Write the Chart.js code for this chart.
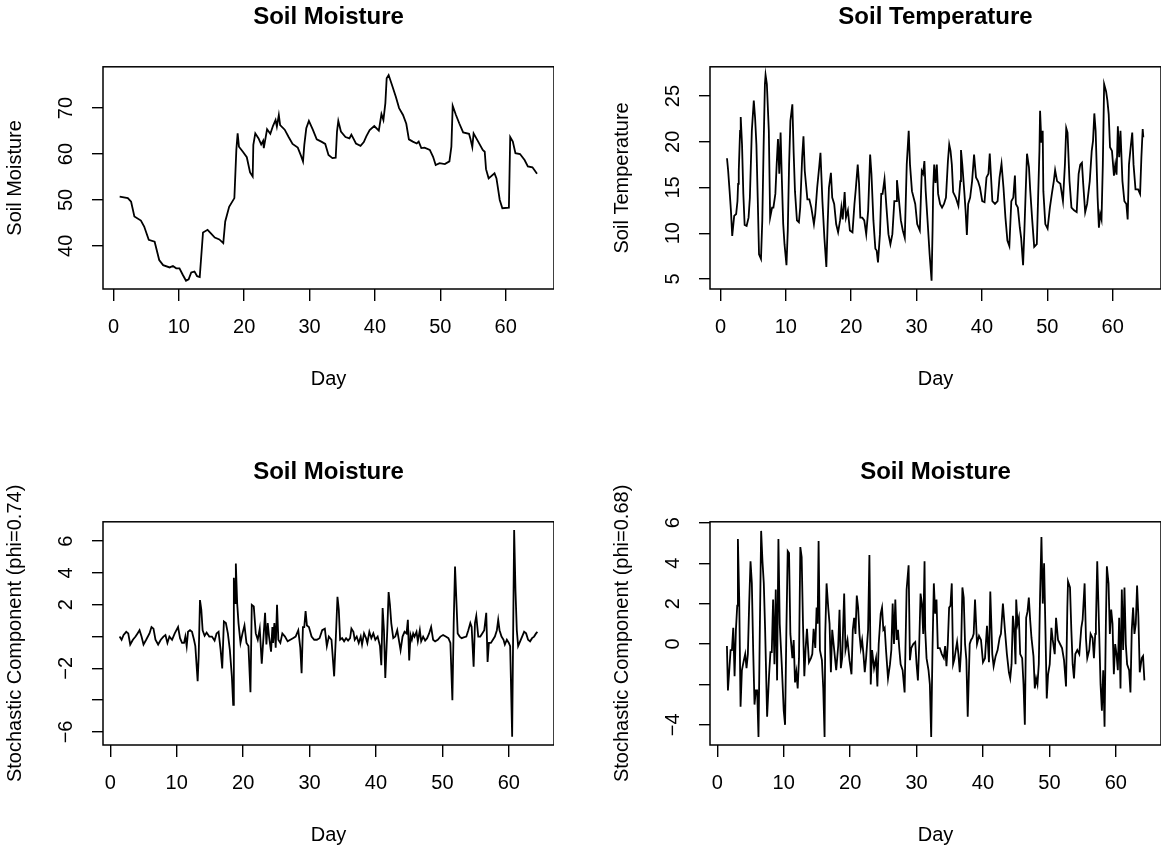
<!DOCTYPE html>
<html>
<head>
<meta charset="utf-8">
<title>Soil Moisture / Soil Temperature</title>
<script src="https://cdn.jsdelivr.net/npm/chart.js@4.4.0/dist/chart.umd.min.js"></script>
<style>
  html, body { margin: 0; padding: 0; background: #fff; overflow: hidden; }
  .panel { position: absolute; }
  #p1 { left: 0; top: 0; width: 554px; height: 393px; }
  #p2 { left: 607px; top: 0; width: 554px; height: 393px; }
  #p3 { left: 0; top: 455px; width: 554px; height: 394px; }
  #p4 { left: 607px; top: 455px; width: 554px; height: 394px; }
</style>
</head>
<body>
<div class="panel" id="p1"><canvas id="moistureChart"></canvas></div>
<div class="panel" id="p2"><canvas id="temperatureChart"></canvas></div>
<div class="panel" id="p3"><canvas id="stochMoistureChart"></canvas></div>
<div class="panel" id="p4"><canvas id="stochTempChart"></canvas></div>
<script>
// x axis ticks (days), shared by all panels
const dayTicks = [0, 10, 20, 30, 40, 50, 60];

// Soil moisture (top left)
const moistureDays = [
  0.95, 2.2, 2.7, 3.2, 4.2, 4.7, 5.4, 6.3, 7.0, 7.6,
  8.6, 9.1, 9.6, 10.1, 10.6, 11.1, 11.5, 11.9, 12.4, 12.8,
  13.2, 13.7, 14.4, 14.8, 15.5, 16.2, 16.8, 17.1, 17.7, 18.5,
  18.8, 19.0, 19.2, 19.8, 20.4, 20.9, 21.3, 21.4, 21.7, 22.2,
  22.6, 22.9, 23.0, 23.5, 24.0, 24.4, 24.8, 25.0, 25.3, 25.5,
  26.2, 26.8, 27.4, 28.2, 28.7, 29.0, 29.2, 29.5, 29.9, 30.5,
  31.1, 31.8, 32.4, 32.9, 33.5, 34.0, 34.2, 34.4, 34.8, 35.5,
  36.1, 36.4, 36.7, 37.1, 37.8, 38.3, 38.7, 39.2, 39.9, 40.6,
  41.0, 41.3, 41.6, 41.8, 42.1, 42.6, 43.2, 43.7, 44.3, 44.8,
  45.2, 45.8, 46.4, 46.7, 47.1, 47.6, 48.4, 48.9, 49.3, 49.9,
  50.7, 51.4, 51.7, 51.9, 52.4, 52.9, 53.5, 54.4, 54.6, 54.9,
  55.1, 55.8, 56.5, 56.8, 57.0, 57.4, 58.3, 58.6, 59.1, 59.5,
  60.5, 60.7, 61.1, 61.5, 62.2, 62.9, 63.4, 64.1, 64.4, 64.8
];
const moistureValues = [
  50.7, 50.4, 49.6, 46.4, 45.5, 44.2, 41.3, 40.9, 36.9, 35.8,
  35.3, 35.6, 35.1, 35.1, 33.7, 32.4, 32.7, 34.2, 34.4, 33.4,
  33.2, 42.9, 43.5, 42.9, 41.8, 41.4, 40.6, 45.3, 48.5, 50.4,
  60.9, 64.5, 61.6, 60.5, 59.3, 56.0, 55.1, 62.0, 64.5, 63.4,
  62.1, 62.9, 61.3, 65.4, 64.4, 66.1, 67.4, 66.0, 68.5, 66.3,
  65.3, 63.7, 62.2, 61.4, 59.6, 58.4, 62.0, 65.6, 67.2, 65.3,
  63.2, 62.7, 62.2, 59.8, 59.1, 59.2, 64.9, 67.2, 64.9, 63.7,
  63.4, 64.2, 63.4, 62.3, 61.8, 62.6, 63.9, 65.2, 66.1, 65.1,
  68.7, 67.4, 71.1, 76.5, 77.2, 75.1, 72.5, 70.0, 68.5, 66.6,
  63.2, 62.7, 62.3, 62.7, 61.3, 61.4, 60.9, 59.4, 57.6, 58.0,
  57.8, 58.4, 61.6, 70.5, 68.5, 66.7, 64.7, 64.4, 63.4, 61.5,
  64.5, 62.7, 60.9, 60.5, 56.7, 54.7, 55.8, 54.7, 50.0, 48.2,
  48.3, 63.7, 62.7, 60.2, 60.0, 58.7, 57.3, 57.1, 56.5, 55.7
];
const moistureTicks = [40, 50, 60, 70];
const moistureTickLabels = ['40', '50', '60', '70'];

// Soil temperature (top right)
const tempDays = [
  1.0, 1.17, 1.4, 1.6, 1.8, 2.1, 2.4, 2.6, 2.7, 2.8,
  3.0, 3.1, 3.3, 3.5, 3.7, 4.0, 4.3, 4.5, 4.8, 5.1,
  5.3, 5.5, 5.7, 5.9, 6.2, 6.4, 6.6, 6.8, 6.9, 7.1,
  7.4, 7.6, 7.9, 8.1, 8.4, 8.6, 8.8, 9.0, 9.2, 9.4,
  9.6, 9.8, 10.1, 10.3, 10.5, 10.7, 10.9, 11.0, 11.2, 11.4,
  11.7, 12.0, 12.2, 12.5, 12.7, 12.9, 13.3, 13.6, 13.9, 14.3,
  14.5, 14.8, 15.1, 15.3, 15.6, 15.9, 16.2, 16.4, 16.6, 16.9,
  17.1, 17.4, 17.7, 18.0, 18.3, 18.5, 18.7, 19.0, 19.2, 19.5,
  19.8, 20.2, 20.5, 20.7, 21.0, 21.2, 21.4, 21.7, 22.0, 22.3,
  22.6, 22.9, 23.1, 23.4, 23.7, 23.9, 24.1, 24.4, 24.6, 24.8,
  25.1, 25.4, 25.7, 26.0, 26.3, 26.6, 26.9, 27.0, 27.3, 27.6,
  27.9, 28.2, 28.5, 28.8, 29.0, 29.3, 29.8, 30.1, 30.5, 30.8,
  31.0, 31.2, 31.4, 31.7, 32.0, 32.3, 32.45, 32.55, 32.7, 32.9,
  33.1, 33.3, 33.6, 33.9, 34.2, 34.5, 34.8, 35.0, 35.2, 35.4,
  35.6, 36.0, 36.4, 36.7, 36.8, 37.0, 37.3, 37.5, 37.7, 37.9,
  38.2, 38.5, 38.8, 39.1, 39.4, 39.7, 40.05, 40.4, 40.7, 41.0,
  41.2, 41.4, 41.6, 42.0, 42.4, 42.7, 43.0, 43.3, 43.6, 43.9,
  44.2, 44.5, 44.8, 45.05, 45.2, 45.5, 45.8, 46.0, 46.3, 46.5,
  46.7, 46.9, 47.2, 47.4, 47.7, 48.0, 48.4, 48.6, 48.8, 48.9,
  49.1, 49.3, 49.4, 49.7, 50.05, 50.4, 50.7, 51.0, 51.2, 51.5,
  52.0, 52.4, 52.7, 52.9, 53.1, 53.4, 53.7, 54.1, 54.5, 54.8,
  55.05, 55.3, 55.5, 55.8, 56.1, 56.5, 56.8, 57.0, 57.2, 57.4,
  57.7, 57.9, 58.1, 58.3, 58.5, 58.7, 59.0, 59.2, 59.4, 59.6,
  59.9, 60.2, 60.4, 60.6, 60.8, 61.0, 61.2, 61.5, 61.8, 62.1,
  62.3, 62.5, 62.8, 63.0, 63.2, 63.5, 63.9, 64.2, 64.4, 64.6,
  64.7
];
const tempValues = [
  18.2, 16.9, 14.6, 12.5, 9.7, 11.9, 12.1, 13.5, 15.4, 16.8,
  21.2, 22.7, 19.7, 14.3, 10.9, 10.8, 11.7, 13.9, 21.2, 24.5,
  22.6, 19.7, 13.9, 7.7, 7.2, 11.4, 19.4, 26.3, 27.3, 26.3,
  21.2, 11.7, 12.8, 12.8, 14.3, 17.5, 20.3, 16.5, 21.0, 15.7,
  11.0, 8.8, 6.5, 10.3, 17.5, 22.3, 23.5, 24.1, 18.8, 14.6,
  11.4, 11.2, 12.8, 18.3, 20.6, 16.8, 13.7, 13.7, 12.8, 11.0,
  12.1, 15.0, 17.2, 18.8, 13.5, 9.5, 6.3, 11.0, 15.0, 16.6,
  13.9, 13.2, 11.0, 10.1, 11.4, 12.8, 11.5, 14.5, 11.7, 12.5,
  10.3, 10.1, 13.2, 14.8, 17.5, 15.5, 11.7, 11.7, 11.4, 9.9,
  12.5, 18.6, 16.5, 11.4, 8.3, 8.1, 6.8, 9.9, 14.3, 14.3,
  15.9, 12.8, 9.9, 8.8, 9.9, 13.5, 13.5, 15.8, 13.7, 11.4,
  10.3, 9.5, 17.5, 21.2, 17.5, 14.6, 13.2, 11.0, 10.3, 16.8,
  16.5, 17.9, 14.6, 11.2, 7.7, 4.8, 10.3, 15.0, 17.5, 15.5,
  17.5, 14.3, 13.2, 12.8, 13.2, 13.9, 17.9, 19.7, 19.0, 17.5,
  14.5, 13.9, 13.0, 15.7, 19.1, 17.5, 14.6, 12.5, 9.8, 13.2,
  13.9, 15.7, 18.6, 16.1, 15.7, 15.0, 13.5, 13.4, 16.1, 16.5,
  18.7, 16.1, 13.5, 13.2, 13.5, 16.1, 17.6, 15.0, 11.7, 9.2,
  8.6, 13.5, 13.9, 16.3, 13.2, 12.8, 10.6, 9.5, 6.5, 10.3,
  14.6, 18.7, 17.2, 14.6, 11.4, 8.5, 8.8, 13.9, 19.0, 23.4,
  19.9, 21.2, 14.6, 11.0, 10.5, 12.8, 14.3, 15.7, 16.9, 15.7,
  15.4, 13.5, 17.5, 21.5, 21.0, 15.7, 12.8, 12.5, 12.3, 16.5,
  17.5, 17.7, 15.4, 12.3, 13.2, 15.7, 19.0, 20.1, 23.1, 21.2,
  13.9, 10.6, 12.1, 11.5, 17.5, 26.3, 25.5, 24.5, 23.0, 19.4,
  19.0, 16.3, 17.5, 16.4, 21.7, 18.3, 21.2, 15.7, 13.5, 13.2,
  11.5, 17.5, 19.7, 21.0, 17.5, 14.8, 14.8, 14.3, 18.3, 21.4,
  20.5
];
const tempTicks = [5, 10, 15, 20, 25];
const tempTickLabels = ['5', '10', '15', '20', '25'];

// Stochastic component of soil moisture, phi = 0.74 (bottom left)
const stoch74Days = [
  1.4, 1.7, 2.0, 2.4, 2.7, 3.0, 3.4, 3.8, 4.1, 4.4,
  4.7, 5.0, 5.4, 5.9, 6.2, 6.5, 6.8, 7.2, 7.6, 8.0,
  8.3, 8.6, 8.9, 9.3, 9.7, 10.2, 10.5, 10.8, 11.1, 11.3,
  11.5, 11.7, 12.0, 12.3, 12.6, 12.8, 13.15, 13.3, 13.5, 13.7,
  13.9, 14.2, 14.5, 14.9, 15.3, 15.7, 16.0, 16.3, 16.6, 16.85,
  17.1, 17.4, 17.7, 18.0, 18.3, 18.5, 18.6, 18.8, 18.9, 19.1,
  19.3, 19.6, 19.9, 20.2, 20.5, 20.8, 21.1, 21.3, 21.6, 21.9,
  22.2, 22.5, 22.8, 23.1, 23.3, 23.5, 23.7, 23.9, 24.2, 24.4,
  24.5, 24.7, 24.9, 25.1, 25.3, 25.6, 25.9, 26.3, 26.7, 27.1,
  27.5, 27.9, 28.3, 28.6, 28.8, 29.0, 29.2, 29.4, 29.6, 29.9,
  30.3, 30.7, 31.1, 31.5, 31.9, 32.3, 32.6, 32.9, 33.3, 33.7,
  34.0, 34.2, 34.4, 34.6, 34.9, 35.2, 35.5, 35.8, 36.1, 36.3,
  36.6, 36.8, 37.1, 37.4, 37.7, 37.9, 38.2, 38.5, 38.7, 39.0,
  39.3, 39.6, 39.9, 40.25, 40.6, 40.8, 41.0, 41.2, 41.4, 41.7,
  41.9, 42.1, 42.3, 42.6, 42.9, 43.2, 43.4, 43.7, 44.0, 44.3,
  44.6, 44.8, 45.0, 45.2, 45.4, 45.6, 45.8, 46.1, 46.3, 46.6,
  46.8, 47.1, 47.4, 47.7, 48.0, 48.3, 48.6, 48.9, 49.3, 49.7,
  50.1, 50.5, 50.9, 51.2, 51.5, 51.7, 51.9, 52.1, 52.3, 52.6,
  52.9, 53.2, 53.6, 53.9, 54.2, 54.4, 54.7, 54.9, 55.1, 55.4,
  55.7, 56.0, 56.3, 56.6, 56.8, 57.0, 57.3, 57.6, 57.9, 58.2,
  58.4, 58.6, 58.9, 59.2, 59.4, 59.7, 60.0, 60.2, 60.5, 60.8,
  61.0, 61.2, 61.4, 61.7, 62.0, 62.3, 62.6, 62.9, 63.2, 63.5,
  63.8, 64.1, 64.3
];
const stoch74Values = [
  0, -0.2, 0.1, 0.3, 0.2, -0.5, -0.2, 0, 0.2, 0.4,
  0, -0.5, -0.2, 0.2, 0.6, 0.5, -0.2, -0.5, -0.2, 0,
  0.1, -0.4, 0, -0.2, 0.2, 0.6, -0.1, -0.4, -0.4, 0,
  -0.6, 0.3, 0.4, 0.3, -0.2, -0.6, -2.8, -1.3, 2.3, 1.7,
  0.4, 0.05, 0.25, 0, 0, -0.25, 0.2, 0.3, -0.8, -2.0,
  0.95, 0.85, 0.2, -0.85, -2.5, -4.3, 3.7, 2.1, 4.6, 2.1,
  0.85, -0.4, 0.2, 0.7, -0.4, -0.6, -3.5, 2.0, 1.9, 0.2,
  -0.2, 0.5, -1.7, 0.2, 1.5, -0.5, 0.85, 0, -0.95, 0.6,
  -0.4, 0.85, -0.7, 2.0, -0.2, -0.4, 0.2, 0, -0.3, -0.2,
  -0.1, 0, 0.4, -0.7, -2.3, 0.6, 0.6, 1.6, 0.7, 0.6,
  0, -0.2, -0.2, -0.1, 0.4, 0.5, -0.6, 0, -0.2, -2.5,
  0.4, 2.5, 1.7, -0.2, -0.1, -0.3, -0.1, -0.25, -0.1, 0.5,
  0.3, -0.2, 0, -0.4, 0, -0.5, 0.2, -0.1, -0.4, 0.3,
  -0.1, 0.2, -0.2, 0, -0.6, -1.8, 1.8, 0.4, -2.6, 0.4,
  2.8, 2.0, 0.85, -0.1, 0, 0.4, -0.1, -0.85, 0, 0.3,
  0.2, 1.05, -1.5, 0.1, -0.2, 0.2, 0, 0.3, -0.3, 0.4,
  -0.3, 0, -0.25, -0.1, 0.2, 0.6, -0.2, -0.3, -0.2, 0,
  0.1, 0, -0.1, -0.4, -4.0, 0.85, 4.4, 2.3, 0.2, 0,
  -0.1, -0.05, 0, 0.4, 0.85, 0.6, -1.9, 0.85, 1.3, 0,
  0, 0.2, 0.4, 1.5, -1.6, -0.4, -0.4, -0.2, 0, 0.4,
  1.05, 0.4, 0, -0.2, -0.5, -0.2, -0.4, -0.6, -6.3, 6.7,
  2.9, 0.4, -0.6, -0.3, 0, 0.3, 0.2, -0.2, -0.3, -0.1,
  0, 0.2, 0.3
];
const stoch74Ticks = [-6, -4, -2, 0, 2, 4, 6];
const stoch74TickLabels = ['\u22126', '', '\u22122', '', '2', '4', '6'];

// Stochastic component, phi = 0.68 (bottom right)
const stoch68Days = [
  1.45, 1.6, 1.8, 2.0, 2.2, 2.4, 2.6, 2.8, 3.0, 3.1,
  3.3, 3.5, 3.7, 4.0, 4.2, 4.4, 4.6, 4.8, 5.0, 5.2,
  5.4, 5.6, 5.8, 6.0, 6.2, 6.4, 6.6, 6.8, 7.0, 7.2,
  7.5, 7.8, 8.0, 8.2, 8.4, 8.6, 8.8, 9.0, 9.2, 9.4,
  9.7, 10.0, 10.2, 10.4, 10.6, 10.8, 11.0, 11.3, 11.5, 11.7,
  11.9, 12.1, 12.3, 12.5, 12.7, 12.9, 13.1, 13.3, 13.5, 13.8,
  14.1, 14.3, 14.5, 14.75, 14.95, 15.1, 15.25, 15.45, 15.75, 15.95,
  16.15, 16.25, 16.45, 16.7, 16.9, 17.1, 17.3, 17.6, 17.9, 18.2,
  18.4, 18.6, 18.8, 19.1, 19.3, 19.6, 19.9, 20.2, 20.4, 20.6,
  20.8, 21.0, 21.2, 21.4, 21.6, 21.8, 22.0, 22.2, 22.4, 22.7,
  22.9, 23.1, 23.3, 23.6, 23.9, 24.1, 24.3, 24.6, 24.8, 25.0,
  25.2, 25.4, 25.7, 26.0, 26.2, 26.4, 26.6, 26.8, 27.0, 27.2,
  27.4, 27.6, 27.9, 28.2, 28.5, 28.8, 29.0, 29.2, 29.5, 29.8,
  30.0, 30.2, 30.4, 30.6, 30.8, 31.0, 31.2, 31.3, 31.5, 31.8,
  32.0, 32.2, 32.4, 32.6, 32.8, 33.0, 33.2, 33.5, 33.8, 34.1,
  34.3, 34.5, 34.7, 34.9, 35.1, 35.3, 35.5, 35.7, 35.9, 36.1,
  36.3, 36.5, 36.7, 36.9, 37.1, 37.3, 37.5, 37.7, 38.0, 38.2,
  38.4, 38.6, 38.8, 39.1, 39.4, 39.7, 40.0, 40.3, 40.6, 40.9,
  41.1, 41.4, 41.6, 41.9, 42.2, 42.5, 42.7, 43.0, 43.3, 43.6,
  43.9, 44.1, 44.3, 44.5, 44.7, 44.9, 45.0, 45.2, 45.4, 45.6,
  45.9, 46.1, 46.3, 46.5, 46.7, 46.9, 47.1, 47.3, 47.6, 47.8,
  48.0, 48.2, 48.4, 48.6, 48.8, 49.0, 49.2, 49.4, 49.6, 49.8,
  50.05, 50.3, 50.5, 50.8, 51.0, 51.3, 51.6, 51.9, 52.2, 52.5,
  52.7, 52.8, 53.1, 53.3, 53.5, 53.7, 53.9, 54.2, 54.5, 54.8,
  55.0, 55.3, 55.5, 55.7, 56.0, 56.2, 56.5, 56.7, 56.9, 57.0,
  57.2, 57.4, 57.7, 57.9, 58.1, 58.3, 58.5, 58.65, 58.9, 59.1,
  59.3, 59.5, 59.7, 59.9, 60.1, 60.3, 60.5, 60.7, 60.9, 61.1,
  61.3, 61.5, 61.7, 62.0, 62.2, 62.4, 62.6, 62.8, 63.0, 63.2,
  63.4, 63.6, 63.9, 64.1, 64.3
];
const stoch68Values = [
  -0.1, -2.3, -1.3, -0.3, -0.3, 0.8, -1.6, 0.7, 1.9, 5.2,
  2.2, -3.1, -1.3, -0.8, -0.5, -1.2, -0.5, 2.0, 4.1, 3.0,
  -0.3, -3.0, -2.3, -2.3, -4.6, 0.7, 5.6, 4.1, 3.0, 0.7,
  -3.6, -1.5, -0.4, -0.4, 2.2, -1.0, 2.7, -1.8, 5.2, 1.0,
  -1.0, -3.3, -4.0, 0.7, 4.6, 4.5, 0.5, -0.7, 0.2, -1.9,
  -1.4, -2.2, -0.7, 4.8, 4.3, 1.0, -1.6, -0.2, 0.75, -0.9,
  -0.7, -0.5, 0.75, -0.2, 1.8, 1.0, 5.1, -0.3, -0.8, -2.2,
  -4.6, 0.5, 3.0, 1.8, 1.0, -1.4, 0.7, -0.3, -1.3, -0.1,
  1.7, -1.2, -0.7, 2.5, -0.3, 0.2, -0.8, -1.5, 0.7, 1.3,
  0.5, 2.4, 1.8, 0.5, -0.2, 0.2, -0.5, -1.4, -0.7, 0.7,
  4.4, -2.0, -0.3, -1.2, -0.7, -2.1, 0, 1.5, 1.8, 0.7,
  0.8, -0.3, -1.7, -1.0, -0.3, 2.0, 0, 2.2, 0.2, 0.7,
  -0.25, -1.0, -1.3, -2.4, 2.7, 3.9, -0.8, -0.2, 0, 0.1,
  -1.0, -1.8, 0, 2.5, 2.0, 0.5, 4.1, 0.7, -0.7, -1.3,
  -2.0, -4.6, -0.2, 3.0, 1.5, 2.2, -0.2, -0.2, -0.5, -0.7,
  -0.1, -1.1, 0, 1.8, 1.9, 3.0, -1.0, -0.75, -0.3, 0.1,
  -0.5, -1.4, -0.3, 2.8, 2.3, 0, -0.8, -3.6, 0, 0.2,
  0.3, 0.5, 2.2, 0, 0.4, 0.2, -0.9, -0.7, 0.9, -0.9,
  2.6, -0.5, -1.1, -0.6, -0.3, 0.3, 0.5, 2.0, 0.7, -0.5,
  -1.4, -1.7, -1.0, 1.4, 0.7, -1.0, 2.2, 1.0, 1.3, -0.5,
  -0.7, -2.0, -4.0, 1.3, 1.6, 2.3, 1.2, 0.3, -0.6, -2.2,
  -1.7, -2.0, -1.0, 2.5, 5.3, 2.0, 4.0, 0.7, -2.7, -1.5,
  -1.0, 0.8, 0.2, -0.5, 1.3, 0.2, 0, -0.2, -0.8, -2.1,
  1.8, 3.1, 2.8, 0.7, -1.0, -1.7, -0.5, -0.3, -0.5, 0.8,
  1.2, 3.0, 0.3, -0.7, -0.3, 0.5, 0.3, -0.7, 0.5, 1.0,
  4.1, 1.7, -2.0, -3.3, -1.3, -4.1, 1.0, 3.85, 3.0, 0.5,
  1.7, 1.0, -1.5, 0, -0.5, -1.3, 1.3, -2.2, 2.7, -0.3,
  2.8, 0, -1.0, -1.3, -2.4, 0.7, 1.8, 0.5, 1.0, 2.9,
  1.3, -1.4, -0.7, -0.6, -1.8
];
const stoch68Ticks = [-4, -2, 0, 2, 4, 6];
const stoch68TickLabels = ['\u22124', '', '0', '2', '4', '6'];

const FONT = '"Liberation Sans", Arial, Helvetica, sans-serif';
Chart.defaults.font.family = FONT;
Chart.defaults.font.size = 20;
Chart.defaults.color = '#000';

// box around the plot region, like base R graphics
const boxPlugin = {
  id: 'rBox',
  afterDatasetsDraw(chart) {
    const a = chart.chartArea;
    const ctx = chart.ctx;
    ctx.save();
    ctx.strokeStyle = '#000';
    ctx.lineWidth = 1.5;
    ctx.strokeRect(a.left, a.top, a.right - a.left, a.bottom - a.top);
    ctx.restore();
  }
};

function makePanel(canvasId, cfg) {
  const ctx = document.getElementById(canvasId).getContext('2d');
  const points = cfg.days.map((d, i) => ({ x: d, y: cfg.values[i] }));

  // y tick labels sit parallel to the axis (rotated), so they are drawn from the scale here
  const yLabelPlugin = {
    id: 'rYLabels',
    afterDraw(chart) {
      const s = chart.scales.y;
      const c = chart.ctx;
      c.save();
      c.fillStyle = '#000';
      c.font = '20px ' + FONT;
      c.textAlign = 'center';
      c.textBaseline = 'alphabetic';
      cfg.yTicks.forEach((v, i) => {
        const lab = cfg.yLabels[i];
        if (!lab) return;
        c.save();
        c.translate(s.right - 31, s.getPixelForValue(v));
        c.rotate(-Math.PI / 2);
        c.fillText(lab, 0, 0);
        c.restore();
      });
      c.restore();
    }
  };

  const tickGrid = {
    drawOnChartArea: false,
    drawTicks: true,
    tickLength: 12,
    color: '#000',
    lineWidth: 1.4
  };

  return new Chart(ctx, {
    type: 'line',
    data: {
      datasets: [{
        data: points,
        borderColor: '#000',
        borderWidth: 1.8,
        pointRadius: 0,
        tension: 0,
        fill: false
      }]
    },
    options: {
      responsive: true,
      maintainAspectRatio: false,
      animation: false,
      layout: { padding: 0 },
      plugins: {
        legend: { display: false },
        tooltip: { enabled: false },
        title: {
          display: true,
          text: cfg.title,
          fullSize: false,
          color: '#000',
          font: { size: 24, weight: 'bold', lineHeight: 1.2 },
          padding: { top: 3, bottom: 35 }
        }
      },
      scales: {
        x: {
          type: 'linear',
          min: cfg.xMin,
          max: cfg.xMax,
          border: { display: false },
          grid: tickGrid,
          ticks: { padding: 14, autoSkip: false, maxRotation: 0, color: '#000' },
          afterBuildTicks: (axis) => { axis.ticks = dayTicks.map(v => ({ value: v })); },
          afterFit: (axis) => { axis.height = 104; },
          title: {
            display: true,
            text: 'Day',
            color: '#000',
            font: { size: 20 },
            padding: { top: 0, bottom: 2 }
          }
        },
        y: {
          type: 'linear',
          min: cfg.yMin,
          max: cfg.yMax,
          border: { display: false },
          grid: Object.assign({}, tickGrid, { tickLength: 11 }),
          ticks: { display: false },
          afterBuildTicks: (axis) => { axis.ticks = cfg.yTicks.map(v => ({ value: v })); },
          afterFit: (axis) => { axis.width = 103; },
          title: {
            display: true,
            text: cfg.yTitle,
            color: '#000',
            font: { size: 20 },
            padding: { top: 3, bottom: 0 }
          }
        }
      }
    },
    plugins: [boxPlugin, yLabelPlugin]
  });
}

document.addEventListener('DOMContentLoaded', function() {
  makePanel('moistureChart', {
    title: 'Soil Moisture', yTitle: 'Soil Moisture',
    days: moistureDays, values: moistureValues,
    xMin: -1.6, xMax: 67.4, yMin: 30.6, yMax: 79.0,
    yTicks: moistureTicks, yLabels: moistureTickLabels
  });
  makePanel('temperatureChart', {
    title: 'Soil Temperature', yTitle: 'Soil Temperature',
    days: tempDays, values: tempValues,
    xMin: -1.6, xMax: 67.4, yMin: 3.9, yMax: 28.2,
    yTicks: tempTicks, yLabels: tempTickLabels
  });
  makePanel('stochMoistureChart', {
    title: 'Soil Moisture', yTitle: 'Stochastic Component (phi=0.74)',
    days: stoch74Days, values: stoch74Values,
    xMin: -1.1, xMax: 66.8, yMin: -6.82, yMax: 7.22,
    yTicks: stoch74Ticks, yLabels: stoch74TickLabels
  });
  makePanel('stochTempChart', {
    title: 'Soil Moisture', yTitle: 'Stochastic Component (phi=0.68)',
    days: stoch68Days, values: stoch68Values,
    xMin: -1.1, xMax: 66.8, yMin: -5.0, yMax: 6.05,
    yTicks: stoch68Ticks, yLabels: stoch68TickLabels
  });
});
</script>
</body>
</html>
